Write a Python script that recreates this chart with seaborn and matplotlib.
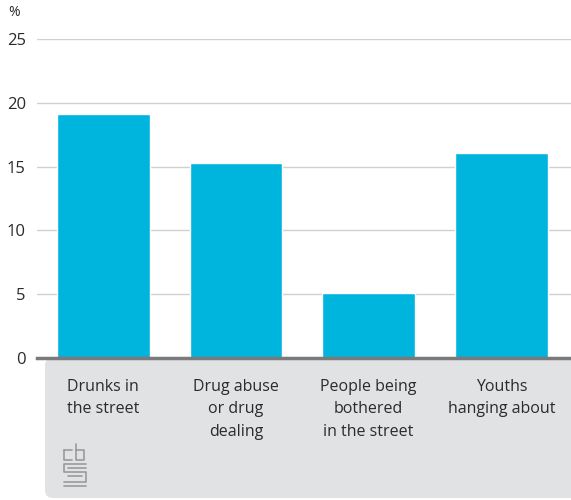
import matplotlib
matplotlib.use("Agg")
import matplotlib.pyplot as plt
import pandas as pd
import seaborn as sns
from matplotlib.lines import Line2D
from matplotlib.patches import FancyBboxPatch

# %% Data
categories = [
    "Drunks in\nthe street",
    "Drug abuse\nor drug\ndealing",
    "People being\nbothered\nin the street",
    "Youths\nhanging about",
]
values = [19.1, 15.3, 5.1, 16.1]
yticks = [0, 5, 10, 15, 20, 25]

df = pd.DataFrame({"category": categories, "value": values})

# %% Style
sns.set_theme(style="white")
plt.rcParams["font.family"] = ["Open Sans", "DejaVu Sans"]
text_col = "#2b2b2b"

fig = plt.figure(figsize=(5.71, 5.0), dpi=100)

# grey panel behind the category labels
panel = FancyBboxPatch(
    (45 / 571, 2 / 500), 540 / 571, 140 / 500,
    boxstyle="round,pad=0,rounding_size=0.015",
    transform=fig.transFigure, facecolor="#e1e2e4", edgecolor="none", zorder=-5,
)
fig.patches.append(panel)

ax = fig.add_axes([37 / 571, 142 / 500, 534 / 571, 319 / 500])
ax.set_zorder(2)
ax.patch.set_alpha(0)

sns.barplot(data=df, x="category", y="value", color="#00b5dd", width=0.7,
            saturation=1, ax=ax, zorder=3)

ax.set_ylim(0, 25)
ax.set_xlim(-0.5, 3.525)
ax.set_yticks(yticks)
ax.set_yticklabels([str(t) for t in yticks], fontsize=12, color=text_col)
ax.tick_params(axis="y", length=0, pad=8)
ax.yaxis.grid(True, color="#d0d0d0", linewidth=1)
ax.set_axisbelow(True)
for s in ["top", "right", "left"]:
    ax.spines[s].set_visible(False)
ax.spines["bottom"].set_color("#7a7a7a")
ax.spines["bottom"].set_linewidth(2.5)
ax.spines["bottom"].set_zorder(5)

ax.set_xlabel("")
ax.set_ylabel("")
ax.set_xticks(range(len(categories)))
ax.set_xticklabels(categories, fontsize=11.5, color=text_col, linespacing=1.55,
                   va="top")
ax.tick_params(axis="x", length=0, pad=15)

fig.text(8 / 571, 1 - 12 / 500, "%", fontsize=10, color=text_col, va="center")

# rough cbs logo
logo_col = "#9a9a9a"
segs = [
    [(64, 450), (64, 460), (72, 460)],
    [(64, 450), (72, 450)],
    [(76, 444), (76, 460), (84, 460), (84, 450), (76, 450)],
    [(86, 464), (64, 464), (64, 472), (86, 472), (86, 482), (64, 482)],
    [(86, 468), (68, 468)],
    [(68, 476), (82, 476)],
    [(64, 486), (86, 486)],
]
for seg in segs:
    xs = [p[0] / 571 for p in seg]
    ys = [1 - p[1] / 500 for p in seg]
    fig.lines.append(Line2D(xs, ys, transform=fig.transFigure, color=logo_col,
                            linewidth=1.2))

fig.savefig("out.png", dpi=100)
